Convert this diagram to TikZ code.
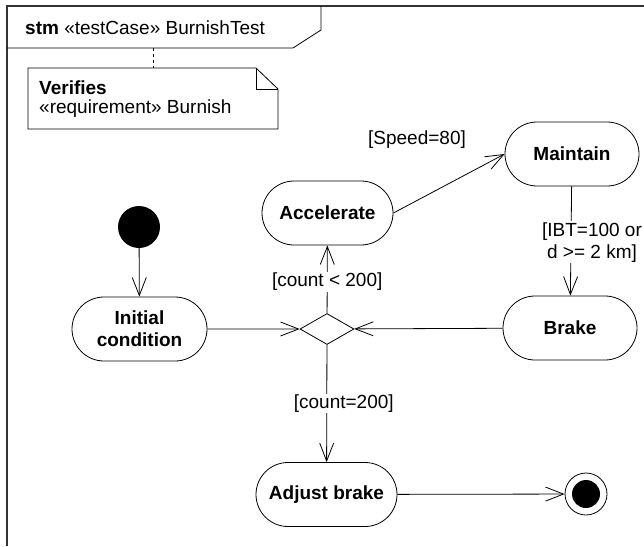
\documentclass[tikz,border=0pt]{standalone}
\usepackage{fontspec}
\setmainfont{Liberation Sans}
\usetikzlibrary{arrows.meta,shapes.misc,shapes.geometric}
\newcommand\dfont{\fontsize{19}{22}\selectfont}
\begin{document}
\begin{tikzpicture}[x=1pt,y=-1pt,
  state/.style={rounded rectangle, draw, line width=0.8pt, font=\dfont\bfseries, align=center, inner sep=0pt, minimum height=64pt},
  flow/.style={draw, line width=0.8pt, -{Straight Barb[length=18pt,width=14pt]}},
  guard/.style={font=\dfont, fill=white, inner sep=1pt, align=center},
  plain/.style={font=\dfont, inner sep=0pt, anchor=west},
  thinline/.style={draw, line width=0.8pt}
  ]
\useasboundingbox (0,0) rectangle (644,546);
% frame
\draw[line width=1.5pt, black!80] (7,546) -- (7,6) -- (644,6);
\draw[thinline] (7,48) -- (293,48) -- (321,30) -- (321,6);
\node[plain] (hdr) at (25,28) {\textbf{stm} «testCase» BurnishTest};
% note
\coordinate (d1) at (153,48);
\coordinate (d2) at (153,68);
\draw[thinline, dashed] (d1) -- (d2);
\draw[thinline, fill=white] (28,68) -- (256,68) -- (278,89) -- (278,129) -- (28,129) -- cycle;
\draw[thinline] (256,68) -- (256,89) -- (278,89);
\node[plain] (nt1) at (39,88) {\textbf{Verifies}};
\node[plain] (nt2) at (39,109) {«requirement» Burnish};
% nodes
\node[circle, fill=black, minimum size=42pt, inner sep=0pt] (init) at (139,227) {};
\node[state, minimum width=135pt] (initcond) at (139.5,329) {Initial\\condition};
\node[state, minimum width=131pt] (accel) at (327.5,213) {Accelerate};
\node[state, minimum width=134pt] (maintain) at (572,154) {Maintain};
\node[state, minimum width=134pt] (brake) at (570,328) {Brake};
\node[diamond, draw, line width=0.8pt, minimum width=54pt, minimum height=31pt, inner sep=0pt] (dia) at (327,329) {};
\node[state, minimum width=141pt] (adjust) at (326.5,494.5) {Adjust brake};
\node[circle, draw, line width=0.8pt, minimum size=42pt, inner sep=0pt] (fin) at (586,494) {};
\node[circle, fill=black, minimum size=28pt, inner sep=0pt] (fincore) at (fin) {};
% edges
\draw[flow] (init) -- (initcond);
\draw[flow] (initcond) -- (dia);
\draw[flow] (brake) -- (dia);
\draw[flow] (dia) -- node[guard, pos=0.46] (lc1) {[count < 200]} (accel);
\draw[flow] (accel.east) -- (maintain.west);
\node[font=\dfont] (lspeed) at (417,140) {[Speed=80]};
\draw[flow] (maintain) -- node[guard, pos=0.51, xshift=21pt] (libt) {[IBT=100 or\\d >= 2 km]} (brake);
\draw[flow] (dia) -- node[guard, pos=0.5, xshift=17pt] (lc2) {[count=200]} (adjust);
\draw[flow] (adjust) -- (fin);
\end{tikzpicture}
\end{document}
